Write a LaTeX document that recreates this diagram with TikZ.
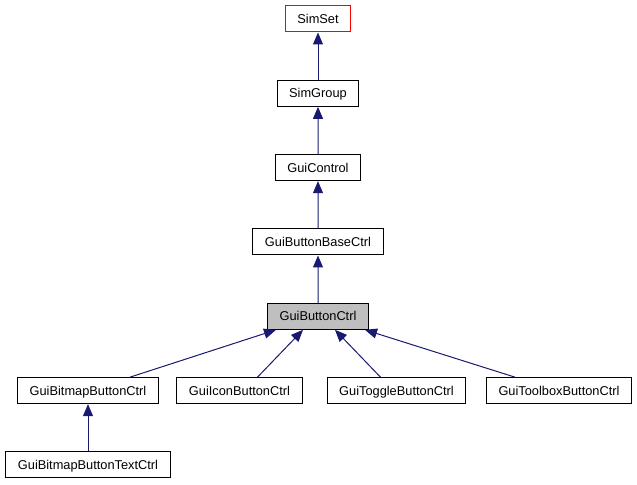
\documentclass[tikz,border=0pt]{standalone}
\usepackage{fontspec}
\setmainfont{Liberation Sans}
\usetikzlibrary{trees,positioning,arrows.meta}
\definecolor{edgeblue}{RGB}{25,25,112}
\definecolor{basegray}{RGB}{191,191,191}

\begin{document}
\begin{tikzpicture}[x=0.75pt,y=-0.75pt,level distance=55.75pt,level 5/.style={sibling distance=117.75pt},edge from parent/.style={draw=none},every node/.style={shape=rectangle,draw=black,fill=white,align=center,font=\fontsize{9.6}{11}\selectfont,inner xsep=9pt,inner ysep=0pt,text height=8pt,text depth=1pt,minimum height=19.5pt,line width=0.75pt},inherit/.style={draw=edgeblue,line width=0.75pt,-{Triangle[length=9pt,width=7.5pt,fill=edgeblue]}}]
\useasboundingbox (0,0) rectangle (637,485);

\node [draw=red] (SimSet) at (318,19) {SimSet}
    child {node (SimGroup) {SimGroup}
    	child {node (GuiControl) {GuiControl}
		child {node (GuiButtonBaseCtrl) {GuiButtonBaseCtrl}
			child {node [fill=basegray] (GuiButtonCtrl) {GuiButtonCtrl}
				child {node [xshift=4.125pt] (GuiBitmapButtonCtrl) {GuiBitmapButtonCtrl}
					child {node (GuiBitmapButtonTextCtrl) {GuiBitmapButtonTextCtrl}}
				}
				child {node (GuiIconButtonCtrl) {GuiIconButtonCtrl}}
				child {node (GuiToggleButtonCtrl) {GuiToggleButtonCtrl}}
				child {node [xshift=4.125pt] (GuiToolboxButtonCtrl) {GuiToolboxButtonCtrl}}
			}
		}
	}
    };
    \draw[inherit] (SimGroup) -- (SimSet);
     \draw[inherit] (GuiControl) -- (SimGroup);
      \draw[inherit] (GuiButtonBaseCtrl) -- (GuiControl);
       \draw[inherit] (GuiButtonCtrl) -- (GuiButtonBaseCtrl);
        \draw[inherit] ([xshift=31.5pt]GuiBitmapButtonCtrl.north) -- ([xshift=-31.5pt]GuiButtonCtrl.south);
        \draw[inherit] ([xshift=13.5pt]GuiIconButtonCtrl.north) -- ([xshift=-11.25pt]GuiButtonCtrl.south);
        \draw[inherit] ([xshift=-12pt]GuiToggleButtonCtrl.north) -- ([xshift=12.75pt]GuiButtonCtrl.south);
        \draw[inherit] ([xshift=-33pt]GuiToolboxButtonCtrl.north) -- ([xshift=35.25pt]GuiButtonCtrl.south);
         \draw[inherit] (GuiBitmapButtonTextCtrl) -- (GuiBitmapButtonCtrl);

\end{tikzpicture}
\end{document}
